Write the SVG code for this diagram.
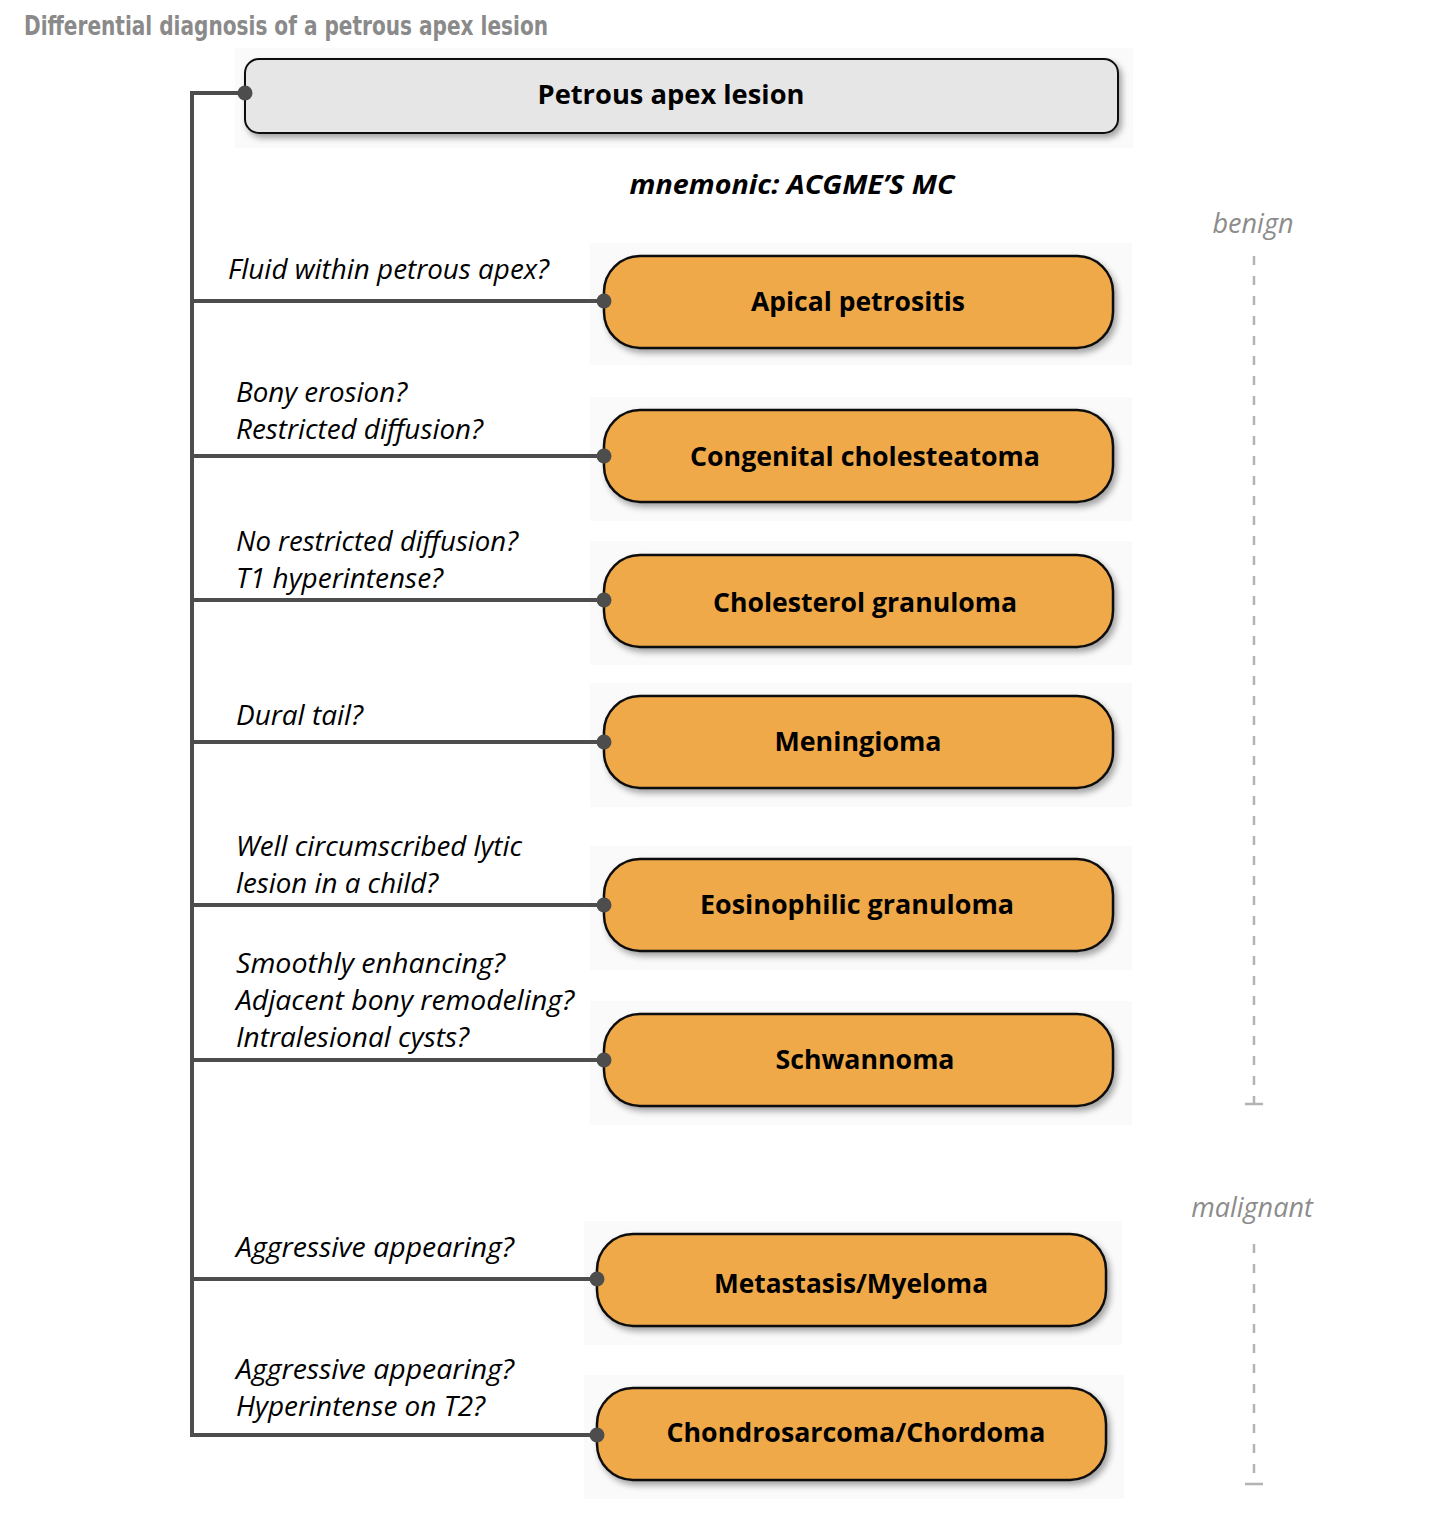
<svg xmlns="http://www.w3.org/2000/svg" width="1446" height="1526" viewBox="0 0 1446 1526">
<defs>
<filter id="sh" x="-10%" y="-20%" width="120%" height="150%">
<feDropShadow dx="3" dy="4" stdDeviation="3" flood-color="#000" flood-opacity="0.35"/>
</filter>
</defs>
<style>
.bg{fill:#fafafa}
.box{fill:#f0a948;stroke:#111;stroke-width:2.5;filter:url(#sh)}
.top{fill:#e6e6e6;stroke:#111;stroke-width:2;filter:url(#sh)}
.bt{font-family:"Open Sans","Liberation Sans",sans-serif;font-weight:bold;font-size:27px;fill:#000;text-anchor:middle}
.q{font-family:"Open Sans","Liberation Sans",sans-serif;font-style:italic;font-size:27px;fill:#000}
.cat{font-family:"Open Sans","Liberation Sans",sans-serif;font-style:italic;font-size:27px;fill:#8c8c8c;text-anchor:middle}
.ln{stroke:#4d4d4d;stroke-width:4;fill:none}
.dot{fill:#4d4d4d}
.dash{stroke:#b3b3b3;stroke-width:2.5;stroke-dasharray:9 11;fill:none}
.tick{stroke:#b3b3b3;stroke-width:2.5}
</style>
<rect width="1446" height="1526" fill="#fff"/>
<text x="24" y="35" font-family="'DejaVu Sans Condensed','DejaVu Sans',sans-serif" font-stretch="condensed" font-weight="bold" font-size="27" fill="#8a8a8a" textLength="524" lengthAdjust="spacingAndGlyphs">Differential diagnosis of a petrous apex lesion</text>

<g id="n0">
<rect class="bg" x="235" y="48" width="898" height="100"/>
<rect class="top" x="245" y="59" width="873" height="74" rx="14"/>
<text class="bt" x="671" y="104" textLength="267" lengthAdjust="spacingAndGlyphs">Petrous apex lesion</text>
</g>
<g id="n1">
<rect class="bg" x="590" y="243" width="542" height="122"/>
<rect class="box" x="604" y="256" width="509" height="92" rx="36"/>
<text class="bt" x="858" y="311" textLength="214" lengthAdjust="spacingAndGlyphs">Apical petrositis</text>
</g>
<g id="n2">
<rect class="bg" x="590" y="397" width="542" height="124"/>
<rect class="box" x="604" y="410" width="509" height="92" rx="36"/>
<text class="bt" x="865" y="466" textLength="350" lengthAdjust="spacingAndGlyphs">Congenital cholesteatoma</text>
</g>
<g id="n3">
<rect class="bg" x="590" y="541" width="542" height="124"/>
<rect class="box" x="604" y="555" width="509" height="92" rx="36"/>
<text class="bt" x="865" y="612" textLength="304" lengthAdjust="spacingAndGlyphs">Cholesterol granuloma</text>
</g>
<g id="n4">
<rect class="bg" x="590" y="683" width="542" height="124"/>
<rect class="box" x="604" y="696" width="509" height="92" rx="36"/>
<text class="bt" x="858" y="751" textLength="167" lengthAdjust="spacingAndGlyphs">Meningioma</text>
</g>
<g id="n5">
<rect class="bg" x="590" y="846" width="542" height="124"/>
<rect class="box" x="604" y="859" width="509" height="92" rx="36"/>
<text class="bt" x="857" y="914" textLength="314" lengthAdjust="spacingAndGlyphs">Eosinophilic granuloma</text>
</g>
<g id="n6">
<rect class="bg" x="590" y="1001" width="542" height="124"/>
<rect class="box" x="604" y="1014" width="509" height="92" rx="36"/>
<text class="bt" x="865" y="1069" textLength="179" lengthAdjust="spacingAndGlyphs">Schwannoma</text>
</g>
<g id="n7">
<rect class="bg" x="584" y="1221" width="538" height="124"/>
<rect class="box" x="597" y="1234" width="509" height="92" rx="36"/>
<text class="bt" x="851" y="1293" textLength="274" lengthAdjust="spacingAndGlyphs">Metastasis/Myeloma</text>
</g>
<g id="n8">
<rect class="bg" x="584" y="1375" width="540" height="124"/>
<rect class="box" x="597" y="1388" width="509" height="92" rx="36"/>
<text class="bt" x="856" y="1442" textLength="379" lengthAdjust="spacingAndGlyphs">Chondrosarcoma/Chordoma</text>
</g>

<g id="connectors">
<polyline class="ln" points="245,93 192,93 192,1435 597,1435"/>
<line class="ln" x1="192" y1="301" x2="604" y2="301"/>
<line class="ln" x1="192" y1="456" x2="604" y2="456"/>
<line class="ln" x1="192" y1="600" x2="604" y2="600"/>
<line class="ln" x1="192" y1="742" x2="604" y2="742"/>
<line class="ln" x1="192" y1="905" x2="604" y2="905"/>
<line class="ln" x1="192" y1="1060" x2="604" y2="1060"/>
<line class="ln" x1="192" y1="1279" x2="597" y2="1279"/>
<circle class="dot" cx="245" cy="93" r="7.5"/>
<circle class="dot" cx="604" cy="301" r="7.5"/>
<circle class="dot" cx="604" cy="456" r="7.5"/>
<circle class="dot" cx="604" cy="600" r="7.5"/>
<circle class="dot" cx="604" cy="742" r="7.5"/>
<circle class="dot" cx="604" cy="905" r="7.5"/>
<circle class="dot" cx="604" cy="1060" r="7.5"/>
<circle class="dot" cx="597" cy="1279" r="7.5"/>
<circle class="dot" cx="597" cy="1435" r="7.5"/>
</g>

<g id="labels">
<text class="q" x="228" y="279" textLength="321" lengthAdjust="spacingAndGlyphs">Fluid within petrous apex?</text>
<text class="q" x="236" y="402" textLength="171" lengthAdjust="spacingAndGlyphs">Bony erosion?</text>
<text class="q" x="236" y="439" textLength="247" lengthAdjust="spacingAndGlyphs">Restricted diffusion?</text>
<text class="q" x="236" y="551" textLength="282" lengthAdjust="spacingAndGlyphs">No restricted diffusion?</text>
<text class="q" x="236" y="588" textLength="207" lengthAdjust="spacingAndGlyphs">T1 hyperintense?</text>
<text class="q" x="236" y="725" textLength="127" lengthAdjust="spacingAndGlyphs">Dural tail?</text>
<text class="q" x="236" y="856" textLength="286" lengthAdjust="spacingAndGlyphs">Well circumscribed lytic</text>
<text class="q" x="236" y="893" textLength="202" lengthAdjust="spacingAndGlyphs">lesion in a child?</text>
<text class="q" x="236" y="973" textLength="269" lengthAdjust="spacingAndGlyphs">Smoothly enhancing?</text>
<text class="q" x="236" y="1010" textLength="338" lengthAdjust="spacingAndGlyphs">Adjacent bony remodeling?</text>
<text class="q" x="236" y="1047" textLength="233" lengthAdjust="spacingAndGlyphs">Intralesional cysts?</text>
<text class="q" x="236" y="1257" textLength="278" lengthAdjust="spacingAndGlyphs">Aggressive appearing?</text>
<text class="q" x="236" y="1379" textLength="278" lengthAdjust="spacingAndGlyphs">Aggressive appearing?</text>
<text class="q" x="236" y="1416" textLength="249" lengthAdjust="spacingAndGlyphs">Hyperintense on T2?</text>
<text class="bt" x="792" y="194" font-style="italic" textLength="325" lengthAdjust="spacingAndGlyphs">mnemonic: ACGME’S MC</text>
</g>

<g id="ranges">
<text class="cat" x="1253" y="233">benign</text>
<line class="dash" x1="1254" y1="256" x2="1254" y2="1104"/>
<line class="tick" x1="1245" y1="1104" x2="1263" y2="1104"/>
<text class="cat" x="1252" y="1217">malignant</text>
<line class="dash" x1="1254" y1="1244" x2="1254" y2="1484"/>
<line class="tick" x1="1245" y1="1484" x2="1263" y2="1484"/>
</g>
</svg>
